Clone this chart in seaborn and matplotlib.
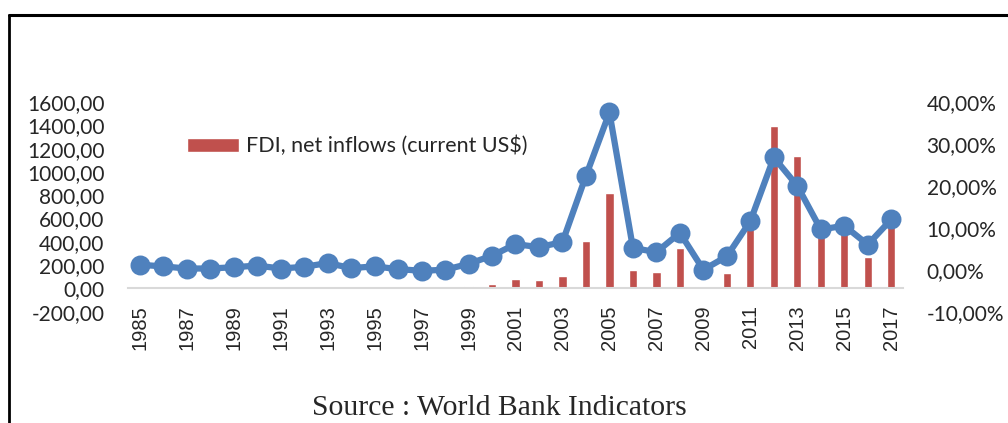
import matplotlib
matplotlib.use("Agg")
import matplotlib.pyplot as plt
from matplotlib.lines import Line2D
from matplotlib.ticker import FixedLocator, FixedFormatter, FuncFormatter
import seaborn as sns
import pandas as pd

# Years on the category axis
years = [str(y) for y in range(1985, 2018)]

# FDI, net inflows (current US$, millions) - left axis
fdi_inflows = [3, 1, 0.5, 1, 2, 3, 2, 4, 14, 2, 3, 1, 0.5, 1, 17,
               40, 78, 69, 104, 407, 820, 156, 139, 344, 0, 133,
               570, 1397, 1137, 500, 520, 271, 580]

# FDI as % of GDP - right axis
fdi_pct_gdp = [1.2, 0.8, 0.3, 0.3, 0.6, 1.0, 0.3, 0.7, 1.6, 0.4, 0.8, 0.15,
               -0.24, 0.0, 1.4, 3.35, 6.1, 5.4, 6.6, 22.4, 37.5, 5.2, 4.2,
               8.8, 0.0, 3.2, 11.6, 26.8, 20.0, 9.6, 10.5, 6.0, 12.0]

left_ticks = [-200, 0, 200, 400, 600, 800, 1000, 1200, 1400, 1600]
right_ticks = [-10, 0, 10, 20, 30, 40]

bar_color = "#C0504D"
line_color = "#4F81BD"

sns.set_style("white")
plt.rcParams["font.family"] = ["Lato", "DejaVu Sans"]

df = pd.DataFrame({"year": years, "fdi": fdi_inflows, "pct": fdi_pct_gdp})

fig = plt.figure(figsize=(10.08, 4.23), dpi=100)
ax = fig.add_axes([128 / 1008, 1 - 311.7 / 423, (903 - 128) / 1008, (311.7 - 102) / 423])

sns.barplot(data=df, x="year", y="fdi", ax=ax, color=bar_color,
            saturation=1, width=0.35, label="FDI, net inflows (current US$)")

ax2 = ax.twinx()
sns.pointplot(data=df, x="year", y="pct", ax=ax2, color=line_color,
              markers="o", markersize=11, linewidth=4.5, errorbar=None)

ax.set_ylim(-200, 1600)
ax2.set_ylim(-10, 40)
ax.set_xlim(-0.5, len(years) - 0.5)

ax.yaxis.set_major_locator(FixedLocator(left_ticks))
ax.yaxis.set_major_formatter(FuncFormatter(lambda v, p: f"{v:.2f}".replace(".", ",")))
ax2.yaxis.set_major_locator(FixedLocator(right_ticks))
ax2.yaxis.set_major_formatter(FuncFormatter(lambda v, p: f"{v:.2f}%".replace(".", ",")))

# every other year labelled
ax.xaxis.set_major_locator(FixedLocator(list(range(0, len(years), 2))))
ax.xaxis.set_major_formatter(FixedFormatter(years[::2]))

ax.set_xlabel("")
ax.set_ylabel("")
ax2.set_xlabel("")
ax2.set_ylabel("")

for a in (ax, ax2):
    for s in a.spines.values():
        s.set_visible(False)
ax.spines["bottom"].set_visible(True)
ax.spines["bottom"].set_position(("data", 0))
ax.spines["bottom"].set_color("#D9D9D9")
ax.spines["bottom"].set_linewidth(1.5)

ax.tick_params(axis="x", length=0, pad=12, labelrotation=90, labelsize=14.5)
ax.tick_params(axis="y", length=0, pad=17, labelsize=15)
ax2.tick_params(axis="y", length=0, pad=17, labelsize=15)
ax.grid(False)
ax2.grid(False)

leg = ax.legend(loc="center left", bbox_to_anchor=(187 / 1008, 1 - 146 / 423),
                bbox_transform=fig.transFigure, frameon=False, fontsize=15.5,
                handlelength=2.4, handleheight=0.65, handletextpad=0.33,
                borderpad=0, borderaxespad=0)

fig.text(0.495, 1 - 408 / 423, "Source : World Bank Indicators",
         ha="center", va="center", family="Liberation Serif", fontsize=21.3)

# outer frame
fig.add_artist(Line2D([9 / 1008, 9 / 1008], [0, 1 - 15 / 423],
                      transform=fig.transFigure, color="black", lw=2))
fig.add_artist(Line2D([9 / 1008, 1], [1 - 15 / 423, 1 - 15 / 423],
                      transform=fig.transFigure, color="black", lw=2.2))

fig.canvas.draw()
for lbl in ax.get_xticklabels():
    lbl.set_family("Liberation Sans")

fig.savefig("out.png", dpi=100)
